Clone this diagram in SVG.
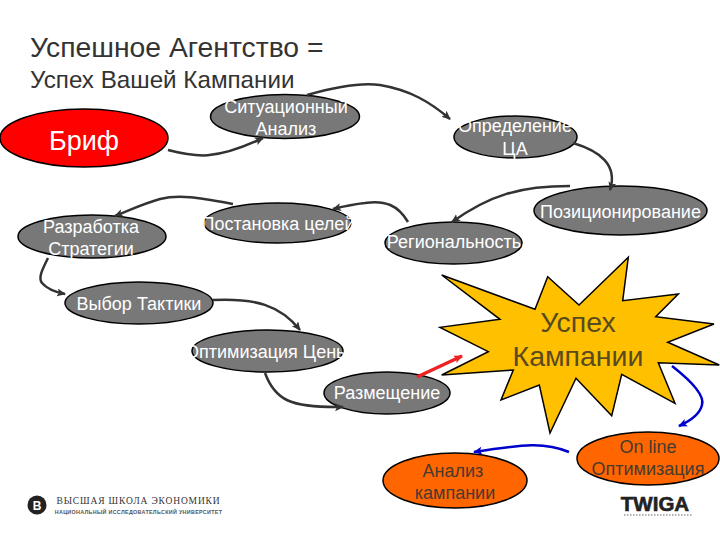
<svg xmlns="http://www.w3.org/2000/svg" width="720" height="540" viewBox="0 0 720 540">
<style>
text{font-family:"Liberation Sans",Arial,sans-serif;text-anchor:middle}
.n{fill:#787878;stroke:#000;stroke-width:1.5}
.w{fill:#fff;font-size:18px}
.o{fill:#ff6600;stroke:#000;stroke-width:1.5}
.d{fill:#4a3a30;font-size:18px}
.c{fill:none;stroke:#333;stroke-width:2.5;marker-end:url(#a)}
.b{fill:none;stroke:#0000cc;stroke-width:2.5;marker-end:url(#ab)}
.t{fill:#333;text-anchor:start}
</style>
<defs>
<marker id="a" markerUnits="userSpaceOnUse" markerWidth="10" markerHeight="10" refX="8" refY="4" orient="auto"><path d="M0 0L9 4L0 8L2 4Z" fill="#333"/></marker>
<marker id="ab" markerUnits="userSpaceOnUse" markerWidth="10" markerHeight="10" refX="8" refY="4" orient="auto"><path d="M0 0L9 4L0 8L2 4Z" fill="#0000cc"/></marker>
<marker id="ar" markerUnits="userSpaceOnUse" markerWidth="10" markerHeight="10" refX="8" refY="4" orient="auto"><path d="M0 0L9 4L0 8L2 4Z" fill="#ee2222"/></marker>
</defs>
<text class="t" x="30" y="57" font-size="28.300">Успешное Агентство =</text>
<text class="t" x="30" y="88" font-size="24.200">Успех Вашей Кампании</text>

<g id="brief"><ellipse cx="84" cy="138" rx="84" ry="29" fill="#ff0000" stroke="#000" stroke-width="1.5"/><text x="84" y="150" font-size="27" fill="#fff">Бриф</text></g>
<g id="situation"><ellipse class="n" cx="285" cy="116.5" rx="74.5" ry="22"/><text class="w" x="286" y="113">Ситуационный</text><text class="w" x="286" y="135">Анализ</text></g>
<g id="audience"><ellipse class="n" cx="515.5" cy="137" rx="61.5" ry="21"/><text class="w" x="515" y="132">Определение</text><text class="w" x="515" y="155">ЦА</text></g>
<g id="positioning"><ellipse class="n" cx="620.5" cy="210.5" rx="86.5" ry="24.5"/><text class="w" x="620.5" y="218">Позиционирование</text></g>
<g id="regionality"><ellipse class="n" cx="453.5" cy="243" rx="68.5" ry="21"/><text class="w" x="454" y="248">Региональность</text></g>
<g id="goals"><ellipse class="n" cx="277.5" cy="223" rx="73.5" ry="20"/><text class="w" x="278" y="230">Постановка целей</text></g>
<g id="strategy"><ellipse class="n" cx="92" cy="236.5" rx="74" ry="21.5"/><text class="w" x="91" y="233">Разработка</text><text class="w" x="91" y="255">Стратегии</text></g>
<g id="tactics"><ellipse class="n" cx="139" cy="303" rx="74" ry="21"/><text class="w" x="139" y="310">Выбор Тактики</text></g>
<g id="price"><ellipse class="n" cx="267.5" cy="351" rx="75.5" ry="21"/><text class="w" x="267" y="358">Оптимизация Цены</text></g>
<g id="placement"><ellipse class="n" cx="387" cy="393" rx="63" ry="21"/><text class="w" x="387" y="399">Размещение</text></g>
<g id="success"><polygon points="441.7,275 535,309.3 547.7,276.7 579,305 628.3,257.3 622.7,300.7 678.3,294 655.7,316.7 714,324 667.7,342.3 719.3,365 658.3,362.7 675,403.3 621.7,374.3 611.7,415.7 576,378.3 550,433 539.3,385 501,400 513.3,370 441.7,375 488.3,351.7 440,327.3 500,319.3" fill="#ffc000" stroke="#000" stroke-width="1.5"/><text x="578" y="332" font-size="28.500" fill="#5a4a20">Успех</text><text x="578" y="366" font-size="28.500" fill="#5a4a20">Кампании</text></g>
<g id="analysis"><ellipse class="o" cx="455" cy="480.5" rx="72" ry="27.5"/><text class="d" x="453" y="477">Анализ</text><text class="d" x="455" y="499">кампании</text></g>
<g id="online"><ellipse class="o" cx="648" cy="458.5" rx="71" ry="26.5"/><text class="d" x="648" y="453">On line</text><text class="d" x="648" y="475">Оптимизация</text></g>

<g id="connectors">
<path class="c" d="M168 150C195 157 215 161 263 138"/>
<path class="c" d="M307 95C335 87 360 82 380 85C410 90 430 102 450 119"/>
<path class="c" d="M573 143C600 151 618 165 610 190"/>
<path class="c" d="M570 186C520 186 490 195 452 222"/>
<path class="c" d="M408 222C398 205 385 200 365 203C355 204 345 206 333 209"/>
<path class="c" d="M233 204C200 198 180 194 160 199C145 203 130 210 115 216"/>
<path class="c" d="M48 258C42 270 38 278 42 283C47 289 55 292 65 294"/>
<path class="c" d="M213 300C255 298 280 305 300 330"/>
<path class="c" d="M265 373C275 400 290 408 343 407"/>
<path d="M417 377L462 356" fill="none" stroke="#ee2222" stroke-width="3.500" marker-end="url(#ar)"/>
<path class="b" d="M672 366C690 380 705 395 702 405C700 414 690 421 679 426"/>
<path class="b" d="M569 452C545 442 525 444 474 452"/>
</g>

<g id="logo-hse"><circle cx="37" cy="505" r="9.500" fill="#222"/><text x="37" y="509.500" font-size="12" font-weight="bold" fill="#fff">В</text><text x="138.500" y="504" font-size="9.500" letter-spacing=".85" fill="#333" style="font-family:'Liberation Serif',serif">ВЫСШАЯ ШКОЛА ЭКОНОМИКИ</text><text x="138.500" y="514" font-size="5.400" letter-spacing=".3" font-weight="bold" fill="#555">НАЦИОНАЛЬНЫЙ ИССЛЕДОВАТЕЛЬСКИЙ УНИВЕРСИТЕТ</text></g>
<g id="logo-twiga"><text x="655" y="511" font-size="20.500" font-weight="bold" fill="#222" stroke="#222" stroke-width=".6">TWIGA</text><line x1="624" y1="515" x2="692" y2="515" stroke="#999" stroke-width="1.5" stroke-dasharray="1.5 1.5"/></g>
</svg>
